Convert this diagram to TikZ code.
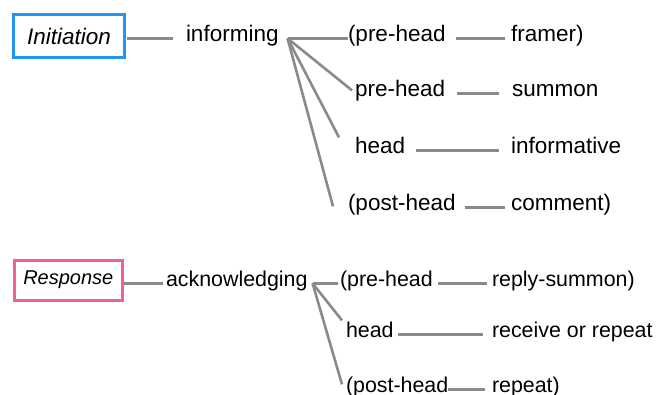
\documentclass[tikz,border=0pt]{standalone}
\usepackage{fontspec}
\setmainfont{Liberation Sans}
\definecolor{initblue}{RGB}{33,150,243}
\definecolor{resppink}{RGB}{240,98,146}
\definecolor{linkgray}{RGB}{138,138,138}

\begin{document}
\begin{tikzpicture}[x=1pt,y=-1pt,
  word/.style={anchor=base west,inner sep=0pt,outer sep=0pt,
    font=\fontsize{22.5}{27}\selectfont},
  wordlow/.style={word,font=\fontsize{21.4}{26}\selectfont},
  movebox/.style={draw,line width=3pt,inner sep=0pt,outer sep=0pt,fill=white},
  link/.style={draw=linkgray,line width=2.6pt}]
\useasboundingbox (0,0) rectangle (656,394);

% ---- Initiation move ----
\node[movebox,draw=initblue,minimum width=111pt,minimum height=42.5pt,
      font=\itshape\fontsize{22.5}{27}\selectfont] (ini) at (69,36.2) {Initiation};
\node[word] (infm) at (186,41) {informing};

\node[word] (ph1) at (348,41)  {(pre-head};
\node[word] (fr)  at (511,41)  {framer)};
\node[word] (ph2) at (355,96)  {pre-head};
\node[word] (sm)  at (512,96)  {summon};
\node[word] (hd1) at (355,153) {head};
\node[word] (inf) at (511,153) {informative};
\node[word] (pt1) at (348,210) {(post-head};
\node[word] (cm)  at (511,210) {comment)};

\draw[link,shorten <=2pt,shorten >=13pt] (ini.east |- infm.mid west) -- (infm.mid west);
\draw[link] ([xshift=9pt]infm.mid east) -- (ph1.mid west);
\draw[link] ([xshift=9pt]infm.mid east) -- ([shift={(-3pt,3pt)}]ph2.mid west);
\draw[link] ([xshift=9pt]infm.mid east) -- ([shift={(-16pt,13pt)}]hd1.mid west);
\draw[link] ([xshift=9pt]infm.mid east) -- ([shift={(-15pt,1pt)}]pt1.mid west);

\draw[link,shorten <=10pt,shorten >=6pt]  (ph1.mid east) -- (fr.mid west);
\draw[link,shorten <=12pt,shorten >=13pt] (ph2.mid east) -- (sm.mid west);
\draw[link,shorten <=11pt,shorten >=12pt] (hd1.mid east) -- (inf.mid west);
\draw[link,shorten <=9pt,shorten >=6pt]   (pt1.mid east) -- (cm.mid west);

% ---- Response move ----
\node[movebox,draw=resppink,minimum width=108.5pt,minimum height=40pt,
      font=\itshape\fontsize{20}{24}\selectfont] (resp) at (68.3,280) {Response};
\node[wordlow] (ack) at (166,286) {acknowledging};

\node[wordlow] (lph) at (340,286) {(pre-head};
\node[wordlow] (rs)  at (492,286) {reply-summon)};
\node[wordlow] (lhd) at (346,337) {head};
\node[wordlow] (rr)  at (492,337) {receive or repeat};
\node[wordlow] (lpt) at (346,392) {(post-head};
\node[wordlow] (rp)  at (492,392) {repeat)};

\draw[link,shorten >=3pt] (resp.east |- ack.mid west) -- (ack.mid west);
\draw[link] ([xshift=5pt]ack.mid east) -- ([xshift=-2pt]lph.mid west);
\draw[link] ([xshift=5pt]ack.mid east) -- ([shift={(-4pt,14pt)}]lhd.mid west);
\draw[link] ([xshift=5pt]ack.mid east) -- ([shift={(-4pt,5pt)}]lpt.mid west);

\draw[link,shorten <=5pt,shorten >=5pt] (lph.mid east) -- (rs.mid west);
\draw[link,shorten <=4pt,shorten >=9pt] (lhd.mid east) -- (rr.mid west);
\draw[link,shorten >=7pt]               (lpt.mid east) -- (rp.mid west);
\end{tikzpicture}
\end{document}
